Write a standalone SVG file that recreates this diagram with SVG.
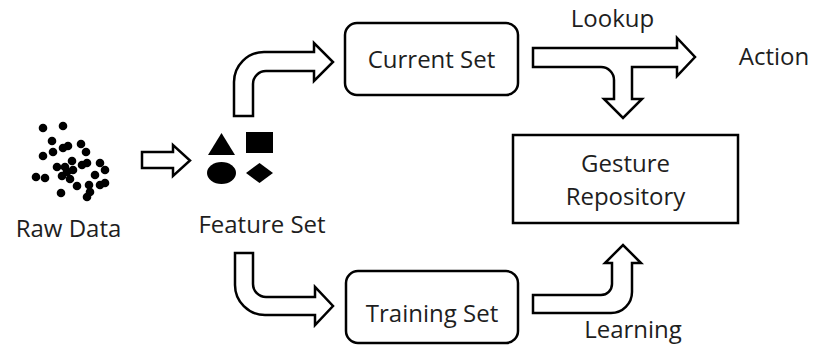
<svg xmlns="http://www.w3.org/2000/svg" width="813" height="346" viewBox="0 0 813 346">
<style>
.t{font-family:"Open Sans","Liberation Sans",sans-serif;font-size:24px;fill:#1e1e1e;text-anchor:middle}
.box{fill:#fff;stroke:#000;stroke-width:2.5}
.arr{fill:#fff;stroke:#000;stroke-width:2.5;stroke-linejoin:miter}
.dot{fill:#000}
</style>
<rect width="813" height="346" fill="#fff"/>
<g id="raw-data">
<g class="dot">
<circle cx="43" cy="128" r="4.3"/><circle cx="63" cy="126" r="4.3"/><circle cx="52" cy="141" r="4.3"/>
<circle cx="43" cy="156" r="4.3"/><circle cx="53" cy="152" r="4.3"/><circle cx="63" cy="148" r="4.3"/>
<circle cx="68" cy="146" r="4.3"/><circle cx="81" cy="144" r="4.3"/><circle cx="86" cy="152" r="4.3"/>
<circle cx="36" cy="177" r="4.3"/><circle cx="45" cy="178" r="4.3"/><circle cx="57" cy="167" r="4.3"/>
<circle cx="65" cy="167" r="4.3"/><circle cx="72" cy="161" r="4.3"/><circle cx="73" cy="170" r="4.3"/>
<circle cx="82" cy="165" r="4.3"/><circle cx="87" cy="163" r="4.3"/><circle cx="100" cy="163" r="4.3"/>
<circle cx="105" cy="170" r="4.3"/><circle cx="62" cy="176" r="4.3"/><circle cx="70" cy="179" r="4.3"/>
<circle cx="77" cy="186" r="4.3"/><circle cx="95" cy="175" r="4.3"/><circle cx="89" cy="185" r="4.3"/>
<circle cx="100" cy="185" r="4.3"/><circle cx="105" cy="183" r="4.3"/><circle cx="90" cy="192" r="4.3"/>
<circle cx="87" cy="197" r="4.3"/><circle cx="61" cy="193" r="4.3"/><circle cx="67" cy="172" r="4.3"/>
</g>
<text class="t" x="68.5" y="237">Raw Data</text>
</g>
<g id="feature-set">
<polygon points="208,155 235,155 221.5,133" fill="#000"/>
<rect x="246" y="132" width="27" height="21" fill="#000"/>
<ellipse cx="221.5" cy="173" rx="14.5" ry="11" fill="#000"/>
<polygon points="259.5,163 273,173 259.5,183 246,173" fill="#000"/>
<text class="t" x="262" y="233">Feature Set</text>
</g>
<g id="current-set">
<rect class="box" x="345" y="23" width="173" height="72" rx="12"/>
<text class="t" x="431.5" y="68">Current Set</text>
</g>
<g id="training-set">
<rect class="box" x="346" y="271" width="172" height="72" rx="12"/>
<text class="t" x="432" y="322">Training Set</text>
</g>
<g id="gesture-repository">
<rect class="box" x="513" y="135" width="225" height="88"/>
<text class="t" x="625.5" y="172">Gesture</text>
<text class="t" x="625.5" y="205">Repository</text>
</g>
<g id="action">
<text class="t" x="774" y="65">Action</text>
</g>
<g id="connectors">
<path class="arr" d="M142,152 L173,152 L173,145 L190,160.5 L173,176 L173,168 L142,168 Z"/>
<path class="arr" d="M234,116 L234,82 A30,30 0 0 1 264,52 L314,52 L314,43 L333,62 L314,81 L314,71 L266,71 A13,13 0 0 0 253,84 L253,116 Z"/>
<path class="arr" d="M235,253 L253,253 L253,284 A13,13 0 0 0 266,297 L315,297 L315,287 L333,306 L315,325 L315,315 L265,315 A30,30 0 0 1 235,285 Z"/>
<path class="arr" d="M533,48 L677,48 L677,38 L695,57 L677,76 L677,67 L632,67 L632,99 L642,99 L623,118 L604,99 L614,99 L614,80 A13,13 0 0 0 601,67 L533,67 Z"/>
<path class="arr" d="M533,295 L601,295 A11,11 0 0 0 612,284 L612,263 L605,263 L623,245 L641,263 L632,263 L632,292 A21,21 0 0 1 611,313 L533,313 Z"/>
<text class="t" x="612.5" y="27">Lookup</text>
<text class="t" x="633" y="338">Learning</text>
</g>
</svg>
